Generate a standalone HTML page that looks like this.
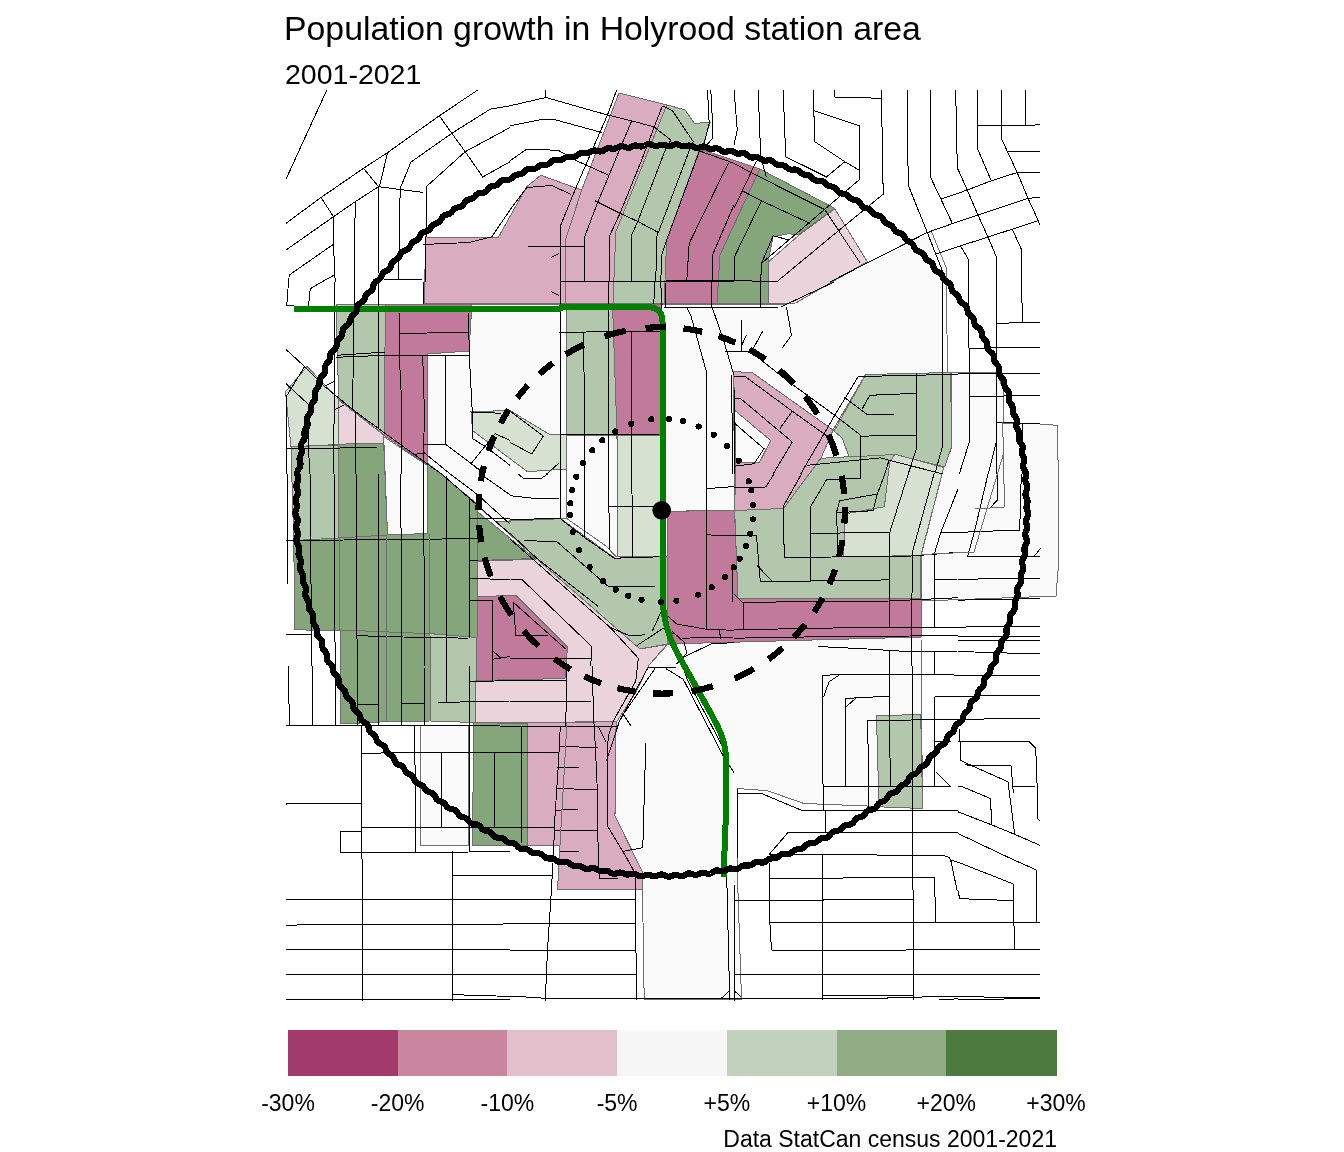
<!DOCTYPE html>
<html lang="en"><head><meta charset="utf-8"><title>Population growth in Holyrood station area</title>
<style>
html,body{margin:0;padding:0;background:#fff}
body{width:1344px;height:1152px;overflow:hidden;position:relative;font-family:"Liberation Sans",sans-serif;color:#000}
svg{position:absolute;left:0;top:0;display:block}
text{font-family:"Liberation Sans",sans-serif;fill:#000}
.st{fill:none;stroke:#000;stroke-width:1;shape-rendering:crispEdges}
.pg{stroke:#6e6e6e;stroke-width:1;shape-rendering:crispEdges}
</style></head><body>
<svg width="1344" height="1152" viewBox="0 0 1344 1152">
<rect width="1344" height="1152" fill="#fff"/>

<g class="pg">
<polygon fill="#fafafa" points="472,304 566,304 566,518 496,521.7 427.5,465.5 427,354 469,351"/>
<polygon fill="#fafafa" points="383.7,436.7 427.5,465.5 427.5,533.5 387.5,535"/>
<polygon fill="#fafafa" points="661,304 786,304 927.3,232.5 931.5,231.7 946.5,268.3 947.3,373 865.6,374.4 833,430 752,372.5 733.5,371.7 734.7,510 661,511.5"/>
<polygon fill="#fafafa" points="951,372.5 997,372 1003.3,390 1003.3,423.5 1040,424 1057,425.3 1058,460 1058,571 1056,596 921,601 921,556 943.7,467.5 951,447.3"/>
<polygon fill="#fafafa" points="667,645 681,640 921,637.5 921.5,715 922.7,808.5 879,806.5 804,803.5 767.3,790.7 737.3,788.5 737.3,871 741.5,999.7 644.2,999.7 642.5,889 642.5,872 615,816 615.5,735 616.7,721.8 636.7,691 648.3,666"/>
<polygon fill="#fafafa" points="420,725 468.7,725 468.7,846 420,845"/>
<polygon fill="#fafafa" points="566,435 617,435 619.5,555.5 616,556.7 606,546 566,518"/>
<polygon fill="#fafafa" points="734.8,410.4 770.7,440.4 759.5,462.3 735.7,462.3"/>
<polygon fill="#fafafa" points="833.3,430 842.3,438 849,457 820.8,458.3"/>
<polygon fill="#d9adbf" points="425.5,237 480,237.5 498,238 526.7,186.7 540.8,175.3 581.7,190 565.8,239 565.5,303.5 424.5,303.5"/>
<polygon fill="#d9adbf" points="619,93 666.7,105 615.8,231.7 613,303.5 565.5,303.5 565.8,239 581.7,190"/>
<polygon fill="#b3c7ad" points="666.7,105 685,109.7 694.2,123.3 710,122.5 704.2,141.7 699,151 666.7,240 664,303.5 613,303.5 615.8,231.7"/>
<polygon fill="#c27a9c" points="699,151 705,150.8 759.8,169 720,255 717,303.5 664,303.5 666.7,240"/>
<polygon fill="#85a57a" points="759.8,169 834.8,208.3 798,235 789,233.7 773,236.7 768.2,261.7 768.2,303.5 717,303.5 720,255"/>
<polygon fill="#ebd3dc" points="834.8,208.8 867.3,261.7 795.7,303 768.2,303.5 768.2,262 798.5,235.5"/>
<polygon fill="#b3c7ad" points="336,304 385.5,304 384,435 338.7,399"/>
<polygon fill="#d6e1d2" points="285.5,391.7 307,366.5 338.7,399 338.7,444.5 291,446.7"/>
<polygon fill="#ebd3dc" points="338.7,400 383.7,435 383.7,443 338.7,444.2"/>
<polygon fill="#c27a9c" points="385.5,304 472,304 469,351 427,354 427,464 384,435.5"/>
<polygon fill="#b3c7ad" points="291,446.7 338.7,445 338.7,538 293.7,540.5"/>
<polygon fill="#85a57a" points="338.7,444.2 383.7,443 387.5,535 338.7,538"/>
<polygon fill="#85a57a" points="293.7,540.5 338.7,538 387.5,535 427.5,533.5 427.5,463 477.5,504.2 477.5,638 430,633.5 295,629.7"/>
<polygon fill="#85a57a" points="477.5,511.7 535,558.5 477.5,560.5"/>
<polygon fill="#85a57a" points="340.5,630 430,633.7 430,721 390,721.5 340.5,724"/>
<polygon fill="#b3c7ad" points="430,633.7 477.5,637.5 475,722.5 431,721"/>
<polygon fill="#b3c7ad" points="566,304 612.5,304 617,434.5 566,434.5"/>
<polygon fill="#c27a9c" points="612.5,304 661,304 661,434.5 617,434.5"/>
<polygon fill="#d6e1d2" points="617,435 660,435 660,556.5 617.5,556.5"/>
<polygon fill="#d6e1d2" points="471,411.7 510,410.5 548.7,434 566,434 566,469 527.5,471.7 472.5,430.5"/>
<polygon fill="#b3c7ad" points="496,521.7 560.8,518.7 615,558.2 659.2,556.5 667.5,556 667.5,644 640,649 536.7,559"/>
<polygon fill="#ebd3dc" points="477.5,561.5 536.7,559 640,649 667,644.5 648.3,666 636.7,691 616.7,721.8 475,722.5 476,680.5 565,678.5 567.5,647 516,595.5 477.5,596.5"/>
<polygon fill="#c27a9c" points="477.5,596.5 516,595.5 567.5,647 565,678.5 476.5,680.5"/>
<polygon fill="#85a57a" points="473.7,722.5 527.5,723.7 528.7,845 472.5,845"/>
<polygon fill="#d9adbf" points="527.5,722.7 616.7,721.8 615.5,735 615,816 642.5,872 642.5,889 557.5,890 560,845.2 527.5,845.2"/>
<polygon fill="#d9adbf" points="733.5,371.7 752,372.5 833,430 821,458 783.5,508.5 734.7,510.5 735.7,462.3 759.5,462.3 770.7,440.4 734.8,410.4"/>
<polygon fill="#c27a9c" points="667.5,511.5 734.5,510 738,598.5 921,599 921,637 667.5,644"/>
<polygon fill="#b3c7ad" points="734.7,510.5 783.5,508.5 820.8,458.3 849.4,456.7 894.8,454.2 889.6,463 884.4,506.7 844.8,514 843.7,556.7 920.8,555.6 921,599 738,598.5"/>
<polygon fill="#b3c7ad" points="865.7,374.5 950.7,372.5 951.5,447 944.8,467 894.8,454.5 849,457 842.3,438 834,431.2"/>
<polygon fill="#d6e1d2" points="894.8,454.2 943.7,467.5 920.8,555.6 843.7,556.7 844.8,514 884.4,506.7 889.6,463"/>
<polygon fill="#b3c7ad" points="876.5,716 920.7,714.3 922.7,808.5 879,806.8"/>
</g>
<g class="st">
<polyline points="326.8,90 286,179.2"/>
<polyline points="477.7,90 439.3,115.8 387.7,152.5 363.5,168.3 321,197.5 286,223.3"/>
<polyline points="510,105.8 490.2,109.2 451.8,133.3 411,162 400.2,188.3 398.5,279.2"/>
<polyline points="378.5,186.7 355.2,201.7 333.5,216.7 286,250"/>
<polyline points="363.5,168.3 378.5,186.7"/>
<polyline points="387.7,152.5 379.3,186.7"/>
<polyline points="378.5,186.7 423.5,192.5"/>
<polyline points="378.5,186.7 378.5,273.3"/>
<polyline points="510,127.5 465.2,151.7 426,187 426,236.7 425.2,282"/>
<polyline points="439.3,115.8 451.8,133.3 465.2,151.7 482.7,177 510,161.7"/>
<polyline points="321,197.5 333.5,216.7 333.5,245 335.2,282"/>
<polyline points="355.2,201.7 354.3,282"/>
<polyline points="333.5,244.2 289.3,275 288.5,282"/>
<polyline points="334.3,275 321.8,282"/>
<polyline points="422.7,244.5 469.3,242.5 491.8,236.7 510,210"/>
<polyline points="384.3,279.2 421.8,279.2"/>
<polyline points="545.8,90 545.8,97.5"/>
<polyline points="510,105.8 545.8,97.5 607.5,115 631.7,120.8 654.2,127 670.8,140"/>
<polyline points="510,125.8 526.7,122.5 539.2,120 555,119.7 601.7,132.5"/>
<polyline points="510,160.8 526.7,149.2 558.3,150.3 576.7,160.8 607.5,174.7"/>
<polyline points="510,210 526.7,187.5 551.7,185.5 570.8,194.2"/>
<polyline points="616.7,90 607.5,115 593.3,147.5 575,190 560.8,225 560.8,282"/>
<polyline points="631.7,120.8 616.7,156.7 596.7,205 584.7,236.7 584.7,282"/>
<polyline points="662.5,105.8 654.2,127 641.7,160 620,213.3 609.2,236.7 609.2,282"/>
<polyline points="662.5,105.8 672.5,110.8 693.3,141.7"/>
<polyline points="670.8,140 665,150.8 638.3,220 631.7,235 631.7,282"/>
<polyline points="693.3,141.7 689.2,150.8 658.3,232.5 656.7,236.7 655.8,282"/>
<polyline points="707.5,90 709.2,123.3 704.2,143.3 699.2,151.7 666.7,240 661.7,255 660.8,282"/>
<polyline points="710.8,90 712.5,122.5 712.5,138.3 706.7,145"/>
<polyline points="699.2,150.8 734,163.3"/>
<polyline points="728.3,163.3 689.2,243.3 686.7,282"/>
<polyline points="734,205 712.5,255 712.5,282"/>
<polyline points="595,200.8 620,213.3 638.3,221.7 658.3,232.5"/>
<polyline points="528,246.3 584.7,246.3"/>
<polyline points="550.8,257.5 559.2,253.3"/>
<polyline points="665.8,280.8 734,280.8"/>
<polyline points="734,90 737.3,130 734,145"/>
<polyline points="758.2,90 760.7,156.7 766.5,177.5"/>
<polyline points="783.2,90 785.7,156.7 826.5,177 844.8,161.7"/>
<polyline points="813.2,90 814.8,141.7 844.8,161.7 859,170"/>
<polyline points="814,110.8 859,125.8 859,180 824,210 761.5,263.3 760.7,282"/>
<polyline points="834.8,90 834.8,97 881.5,98.3"/>
<polyline points="881.5,90 881.5,98.3 883.2,194.2 837.3,231.7 776.5,282"/>
<polyline points="907.3,90 908.2,185 927.3,232.5 944,275 945.7,282"/>
<polyline points="930.7,90 930.7,177.5 952.3,223.3"/>
<polyline points="955.7,90 957.3,168.3 958,170"/>
<polyline points="940.7,199.2 958,193.3"/>
<polyline points="829.8,282 927.3,232.5 958,221.7"/>
<polyline points="935.7,254.2 958,246.7"/>
<polyline points="734,163.3 750.7,172.5 824.8,209.7 859.8,262.5"/>
<polyline points="742.3,190.8 761.5,200.8 809.8,223.3"/>
<polyline points="761.5,200.8 734.5,256.7 734.3,281"/>
<polyline points="756.5,160.8 742.3,190.8 734,208.3"/>
<polyline points="761.5,263.3 773.2,235.8 789,240"/>
<polyline points="734,280.8 776.5,281.3"/>
<polyline points="977.7,90 977.7,149.2 991.3,180.8"/>
<polyline points="1001.7,90 1001.7,139.2 1017.2,172.5 1028,198.3 1038,220 1040,225.3"/>
<polyline points="1025.5,90 1025.5,125"/>
<polyline points="977.7,125.3 1033,125.3 1039.7,124.5"/>
<polyline points="1008,151.7 1039.7,151.7"/>
<polyline points="1017.2,172.5 1039.7,172.5"/>
<polyline points="958,193.3 967.2,190 991.3,180.8 1017.2,172.5"/>
<polyline points="958,221.7 978,215 1028,198.3 1039.7,197.5"/>
<polyline points="958,246.7 988,237 1012.2,229.2 1038,220.8"/>
<polyline points="958,169.2 967.2,190 978,215 988,237 996.3,256.7 996.3,282"/>
<polyline points="960.5,245.8 968.3,259.2 968.3,282"/>
<polyline points="1012.2,229.2 1021.3,249.2 1021.3,282"/>
<polyline points="288.5,282 286.8,305 294.3,305"/>
<polyline points="321.8,282 310.2,288.7 308.5,307"/>
<polyline points="334.7,282 334.7,382 333.2,474"/>
<polyline points="354.3,282 353.5,357 352.3,409.5"/>
<polyline points="355.7,412 356,474"/>
<polyline points="378.5,282 378.5,427.8"/>
<polyline points="424,282 423.5,304.5"/>
<polyline points="399.3,312.8 399.3,355.3 401,390.3 401,474"/>
<polyline points="399.3,333.7 468.5,332"/>
<polyline points="336,357.3 386,355.3 468.5,355.3"/>
<polyline points="422.7,355.3 424.3,408.7 423.5,474"/>
<polyline points="445.7,355.3 445.7,444.5 424.3,444.5"/>
<polyline points="468.5,312.8 469.3,355.3 472.3,412 472.7,438.7 486,447 510,465.3"/>
<polyline points="471,412.3 501,413.2"/>
<polyline points="286,349.5 304.3,366.2 324.3,386.2 352.7,409.5 384.3,432.8 414.3,454.5 432.7,467.8 441.8,474"/>
<polyline points="286,383.7 307.7,403.7"/>
<polyline points="304.3,367 286,397"/>
<polyline points="324.3,386.2 334.7,381.2"/>
<polyline points="334.7,409.5 344.3,405"/>
<polyline points="286,448.3 376.8,447.8"/>
<polyline points="308,404.5 309.3,474"/>
<polyline points="414.3,454.5 424.3,452.8 450.2,474"/>
<polyline points="445.7,444.5 485.2,474"/>
<polyline points="495.2,433.7 471,463.7 481.8,472"/>
<polyline points="495.2,433.7 510,440.3"/>
<polyline points="286.8,397 286.8,474"/>
<polyline points="336.5,355.3 385.7,352"/>
<polyline points="560,282 560,474"/>
<polyline points="608.3,282 608.3,474"/>
<polyline points="559.2,332.3 660.8,331.2"/>
<polyline points="583.3,332.3 584.2,382 584.2,474"/>
<polyline points="631.7,331.5 631.7,474"/>
<polyline points="560,435 659.2,434.5"/>
<polyline points="655,282 653.7,304.5"/>
<polyline points="660.8,282 661.7,308.7"/>
<polyline points="665,282 665.5,307"/>
<polyline points="711.7,282 712,307 722.5,337 734,375.3"/>
<polyline points="664.2,307.3 734,307.3"/>
<polyline points="686.7,307.8 690.8,315.3 706.7,372.8 706.7,474"/>
<polyline points="734,351.2 725,351.2"/>
<polyline points="731.7,375.3 732.5,474"/>
<polyline points="550.8,291.2 559.2,295.7"/>
<polyline points="510,411.2 543.3,436.2 531.7,454 510,442.3"/>
<polyline points="559.2,462.8 546.7,474"/>
<polyline points="560,281.5 734,281.5"/>
<polyline points="760.7,282 760.7,307"/>
<polyline points="734,307.3 780.7,307 834,282"/>
<polyline points="786.5,307 791.5,335.3 782.3,347.8"/>
<polyline points="741.5,320 741.5,351.2"/>
<polyline points="734,351.2 749.8,351.2"/>
<polyline points="746.5,335.3 742,344.5"/>
<polyline points="762.7,331.2 752.7,349.5"/>
<polyline points="749.8,351.2 789,382 834.8,415.3 860.7,435.3 860.7,474"/>
<polyline points="858.2,376.5 916.5,375.3 958,374"/>
<polyline points="858.2,376.5 834.8,415.3 805.7,465.3 800.7,474"/>
<polyline points="844,397 867.3,414.5 894,414.5"/>
<polyline points="862.3,408.7 869.8,395.3 916.5,393.3"/>
<polyline points="916.5,373.3 916.5,448.7 908.2,474"/>
<polyline points="860.7,436.2 916.5,435"/>
<polyline points="942.3,282 942.3,447 934.8,474"/>
<polyline points="807.3,465.3 880.7,457.8 889,460.3 884.8,474"/>
<polyline points="889,460.3 943.2,474"/>
<polyline points="734,376.2 745.7,377 792.3,411.2 827.3,436.2"/>
<polyline points="734,398.7 740.7,398.7 792.3,442 773.2,474"/>
<polyline points="792.3,411.2 779.8,428.7"/>
<polyline points="734,422.8 764,448.7 754,463.7 734,466.2"/>
<polyline points="734.8,390.3 734.8,474"/>
<polyline points="968.8,282 969.3,442 959.3,474"/>
<polyline points="996.7,282 996.7,474"/>
<polyline points="996,442.8 988.3,474"/>
<polyline points="1021.3,282 1022.7,322.8"/>
<polyline points="996.7,323.3 1039.7,322.3"/>
<polyline points="969.3,348.3 1039.7,347.3"/>
<polyline points="958,374 1039.7,373.3"/>
<polyline points="969.3,396.7 1039.7,395.3"/>
<polyline points="996.7,422.8 1039.7,423.3"/>
<polyline points="1022.2,423.3 1022.2,474"/>
<polyline points="287.3,474 288,584"/>
<polyline points="310.2,474 311,584 311.8,666"/>
<polyline points="334.3,474 334.7,630.7 335.7,666"/>
<polyline points="356.3,474 356.8,630.7 357.7,666"/>
<polyline points="378.5,474 378.5,666"/>
<polyline points="400.7,474 401.8,666"/>
<polyline points="423.5,474 424.7,666"/>
<polyline points="446.3,476.5 446.8,666"/>
<polyline points="469,497.3 469,638.2"/>
<polyline points="286,540.7 386,539.5 477.7,538.7"/>
<polyline points="286,634.3 311,634.8"/>
<polyline points="356.8,635.7 402.7,637 468.5,638.2"/>
<polyline points="469,518.5 510,518.5"/>
<polyline points="469,560.3 477.7,560.3"/>
<polyline points="469,578.7 510,579.3"/>
<polyline points="469,600.7 492.7,601"/>
<polyline points="492.7,601 492.7,666"/>
<polyline points="492.7,650.7 501,658.2"/>
<polyline points="492.7,659.3 510,656.5"/>
<polyline points="441.8,474 476.8,504.8 510,534"/>
<polyline points="450.2,474 477.7,494.8 510,524"/>
<polyline points="485.2,477.3 510,494.8"/>
<polyline points="560,474 560,518.7"/>
<polyline points="584.2,474 584.2,537.3"/>
<polyline points="608.3,474 609.7,549.8"/>
<polyline points="631.7,474 633,557.3"/>
<polyline points="609.2,506.8 659.2,506"/>
<polyline points="510,495.7 535,498.5 559.2,498.5"/>
<polyline points="518.3,474 523.3,478.2 541.7,478.2 547.5,474"/>
<polyline points="510,519.3 560,518.7"/>
<polyline points="560.8,519 584.2,537.3 614.2,558.2 659.2,556.8"/>
<polyline points="524.2,540.7 556.7,541.5 608.3,586.5 655,586.5"/>
<polyline points="510,533.2 536.7,558.2 598.3,606.5"/>
<polyline points="510,539 610,627.3 630,636 645,634.8"/>
<polyline points="510,579 521.7,579.3 591.7,646.5 590.8,666"/>
<polyline points="610,627.3 638.3,658.2 637.5,666"/>
<polyline points="636.7,645.7 663.3,628.2 674.2,634"/>
<polyline points="672.5,631.5 684.2,642.3 686.7,653.2 676.7,664"/>
<polyline points="660.8,612.3 652.5,630.7"/>
<polyline points="706.7,474 706.7,629"/>
<polyline points="706.7,488.7 734,486.5"/>
<polyline points="706.7,534.8 734,536"/>
<polyline points="667.5,615.7 676.7,624 706.7,629.3 734,630.3"/>
<polyline points="719.2,629.8 720.8,639"/>
<polyline points="681.7,638.2 734,637"/>
<polyline points="732.5,564 732.5,602.3"/>
<polyline points="683.3,657.3 711.7,643.7 734,642.7"/>
<polyline points="513.3,602.3 515.8,635.3 548.3,635.3"/>
<polyline points="513.3,602.3 565.8,649"/>
<polyline points="510,658.5 591.7,658.2"/>
<polyline points="734,487.7 765.7,487 774,474"/>
<polyline points="801.5,474 783.2,506.5 784.3,557.3 911.5,556.5"/>
<polyline points="860.7,474 860.2,478.2 826.5,479.8 810.7,506.5 810.7,580.7"/>
<polyline points="884.8,474 877.3,494 839.8,500.7 836.5,512.3 838.2,556.5"/>
<polyline points="877.3,494 873.2,510.7 836.5,512.7"/>
<polyline points="908.2,474 889.8,532.3 889.8,627.3"/>
<polyline points="810.7,533.2 889.8,532.7"/>
<polyline points="734,535.7 756.5,535.7 760.3,581 810.7,581 850.7,580.7 889.8,579.8"/>
<polyline points="757.3,565.7 771.5,580.7"/>
<polyline points="934,474 912.3,552.3 911.5,666"/>
<polyline points="958,489 940.7,532.7 934.8,552.3 934.8,627.3"/>
<polyline points="940.7,532.7 958,532.7"/>
<polyline points="911.5,556 958,552.3"/>
<polyline points="934.8,579.3 958,579"/>
<polyline points="734,594 742.3,602.3 889.8,601 958,597.7"/>
<polyline points="743.2,602.3 743.2,629"/>
<polyline points="734,629.8 850.7,627.7 958,627.3"/>
<polyline points="734,638.2 834,636.5 958,635.7"/>
<polyline points="818.2,646.5 867.3,649 911.5,651.8 958,651"/>
<polyline points="889.8,651 889.8,666"/>
<polyline points="934.8,651.5 934.8,666"/>
<polyline points="988,474 974.7,530.7 967.7,556"/>
<polyline points="998,474 997.7,499.8 989.3,508.7 974.7,508.7"/>
<polyline points="1021.3,474 1019.7,530.3 974.7,531.5 958,532.7"/>
<polyline points="967.2,556.5 1039.7,556.5"/>
<polyline points="1033.8,556.5 1040.8,548.2"/>
<polyline points="958,579.8 986.3,578.7 1039.7,578.5"/>
<polyline points="958,600.2 991.3,599.3 1039.7,598.7"/>
<polyline points="958,627.3 979.7,626.5 1039.7,626.2"/>
<polyline points="958,636.5 1039.7,636"/>
<polyline points="958,640.3 1039.7,640.3"/>
<polyline points="958,651.5 1013,653.2 1039.7,653.7"/>
<polyline points="288.5,666 289.3,725.2"/>
<polyline points="312.3,666 312.3,725.2"/>
<polyline points="335.7,666 335.7,725.2"/>
<polyline points="357.7,666 357.7,725.2"/>
<polyline points="378.5,666 378.5,725.2"/>
<polyline points="357.7,704.7 378.5,704.7"/>
<polyline points="401.3,666 401.8,725.2"/>
<polyline points="401.8,703.5 423.5,703.5"/>
<polyline points="424,666 424.7,725.2"/>
<polyline points="446.8,666 446.8,701.8"/>
<polyline points="437.7,702.3 475.2,701.8 510,701"/>
<polyline points="469,666 469,851"/>
<polyline points="492.7,666 492.7,681"/>
<polyline points="470.2,681.5 510,680.7"/>
<polyline points="286,725.2 474.3,725.2 510,726.3"/>
<polyline points="361.8,725.2 361.8,858"/>
<polyline points="414.7,725.2 415.2,789.3 415.7,852.3"/>
<polyline points="361.8,753.3 401,752.7 510,752.3"/>
<polyline points="441.8,752.7 441.8,827.3"/>
<polyline points="494.3,752.7 494.3,827.3"/>
<polyline points="361.8,827.3 510,827.3"/>
<polyline points="286,804.3 287.7,803.3 361.8,803.3"/>
<polyline points="361.8,831.5 340.7,831.5 340.7,852.3 467.7,852.3"/>
<polyline points="469,851 510,851"/>
<polyline points="452.7,851 452.7,858"/>
<polyline points="510,681 565.8,680.2"/>
<polyline points="566.7,666 565.8,726"/>
<polyline points="510,701.3 590.8,701"/>
<polyline points="592.5,666 593.3,712.7 595.3,746 597,782.7 598.3,858"/>
<polyline points="510,726.3 616.7,726.3"/>
<polyline points="560.3,726.3 558.3,766 555,816 553.3,858"/>
<polyline points="521.3,726.3 521.3,842.7"/>
<polyline points="510,752.3 558.7,752.3"/>
<polyline points="559.7,746.3 597.5,747.7"/>
<polyline points="557.5,767.3 578.7,767.2"/>
<polyline points="556.7,788.5 597.5,789.7"/>
<polyline points="555.8,810.3 578.7,809"/>
<polyline points="510,827.3 554.2,827.3"/>
<polyline points="554.7,830.7 598.3,830.7"/>
<polyline points="560,851 578.7,851"/>
<polyline points="637.5,666 635.8,681 613.3,721 608.3,736 607,759.3 607.5,826 626.7,858"/>
<polyline points="655,668.5 623.3,714.3 630.8,725.7"/>
<polyline points="647.5,668.5 619.2,721.8 607,759.3"/>
<polyline points="598.3,726.8 605.8,741.8"/>
<polyline points="645.3,742.7 645.3,759.3 642.8,847.7 623.3,851.3"/>
<polyline points="648.3,667.3 675.8,667.3"/>
<polyline points="665.8,668.5 683.3,679.3 723.3,756 734,772.7"/>
<polyline points="684.2,671 687,679.3 725,751"/>
<polyline points="889.8,666 889.8,749.3 890.7,786"/>
<polyline points="912,666 912.7,858"/>
<polyline points="934.8,666 934.8,674.3"/>
<polyline points="934.8,696.8 934.8,786"/>
<polyline points="822.3,675.5 840.7,674.3 940.7,674.3 958,675.2"/>
<polyline points="822.3,675.5 823.2,811"/>
<polyline points="839.8,674.7 829,681.8 823.7,696.8"/>
<polyline points="845.3,698.7 857.3,697.7 889.8,696.3"/>
<polyline points="845.3,698.7 845.7,786"/>
<polyline points="856.5,697.7 846,706.8"/>
<polyline points="934.8,696.8 958,696.8"/>
<polyline points="867.3,720.3 958,719.7"/>
<polyline points="867.3,720.3 868.7,766 868.7,806.8"/>
<polyline points="934.8,741.8 950.7,741.3"/>
<polyline points="823.2,786 950.7,786"/>
<polyline points="935.7,771.8 950.3,786"/>
<polyline points="737.3,793.5 761.5,793.5 803.2,811 958,810.3"/>
<polyline points="737.3,789 737.3,858"/>
<polyline points="825.3,811 825.3,832.3"/>
<polyline points="788.2,832.3 958,833"/>
<polyline points="788.2,832.3 769.3,854.3"/>
<polyline points="769.3,854.7 942.3,855.2 950.3,857.7"/>
<polyline points="822.3,855.2 822.3,858"/>
<polyline points="958,675.2 1039.7,675.2"/>
<polyline points="958,696.8 986.3,695.7 1039.7,695.3"/>
<polyline points="958,719.7 996.3,718.7 1039.7,718.5"/>
<polyline points="958,741.3 1028.8,741.3 1035.5,748 1036.7,766 1037.7,819 1039.7,820.5"/>
<polyline points="959.7,729.3 960.5,760.2 968.8,764.3 1008,781.8 1014.7,834.3"/>
<polyline points="965.5,764.3 968.8,765.5 1011,765.5 1013.3,792.7"/>
<polyline points="1013,786.3 1035,786.3"/>
<polyline points="958,786.3 961.3,786.3 990.5,798.5 991.7,824.3"/>
<polyline points="958,811.8 991.3,824.7 1014.7,834.3 1039.7,845.2"/>
<polyline points="958,833.5 1009.7,858"/>
<polyline points="361.8,858 362.7,863 362.7,1000.5"/>
<polyline points="452.7,858 452.7,1000.5"/>
<polyline points="452.7,875.2 510,875.2"/>
<polyline points="286,899.3 510,899.3"/>
<polyline points="286,925.5 303.5,924.7 500.2,924.3 510,923.3"/>
<polyline points="286,949.7 510,949.7"/>
<polyline points="286,974.7 510,974.7"/>
<polyline points="286,999.7 510,999.7"/>
<polyline points="452.7,994.3 466.8,995.2 496,996 510,996.3"/>
<polyline points="553,863 550.8,899.7 547.5,949.7 545.3,1000.5"/>
<polyline points="510,875.2 552.5,875.2"/>
<polyline points="598.3,858 599.7,878 618.3,878"/>
<polyline points="626.7,858 635,873 635.8,938 636.7,1000.5"/>
<polyline points="510,899.3 635.3,899.3"/>
<polyline points="510,923.5 635.3,923.5"/>
<polyline points="510,950 635,950.3"/>
<polyline points="510,974.7 636.2,974.7"/>
<polyline points="510,996.3 523.3,996.8 553.3,998.8 734,998.8"/>
<polyline points="726.7,874.7 729.7,999.7"/>
<polyline points="721.7,998 729.2,990.8"/>
<polyline points="734.8,884.7 734.8,1000.5"/>
<polyline points="734.8,991.3 741.5,997.2"/>
<polyline points="769.3,863 769.3,913 771.5,950.2"/>
<polyline points="822.3,858 822.7,1000.5"/>
<polyline points="912.3,858 913.2,898 913.7,1000.5"/>
<polyline points="769.8,878.3 842.3,878.3 844,877.5 934.5,877.5 935.7,922.2"/>
<polyline points="734.8,900.5 823.2,900.5 824,899.3 913.2,899.3"/>
<polyline points="769,922.2 958,922.2"/>
<polyline points="771.5,950.2 905.7,950.2 907.3,949.3 958,949.3"/>
<polyline points="734.8,974.3 958,974.3"/>
<polyline points="734,998.8 886.5,998.8 888.2,997.3 958,996.7"/>
<polyline points="822.7,995.5 913.2,995.5"/>
<polyline points="939,999.7 958,998.8"/>
<polyline points="949,858 950.7,860 957.3,891.3"/>
<polyline points="950.7,860 958,862.2"/>
<polyline points="958,862.2 1013,883.8 1013.8,918 1014.7,949.3"/>
<polyline points="1009.7,858 1036.3,870 1036.7,922.2"/>
<polyline points="958,891.3 959.7,898.3 973,899.3 1013.3,900.5"/>
<polyline points="958,922.2 1039.7,922.2"/>
<polyline points="958,949.3 1039.7,949.3"/>
<polyline points="958,974.3 1039.7,974.3"/>
<polyline points="958,996.7 1039.7,997.7"/>
<polyline points="958,999 989.7,999.3 1039.7,998.3"/>
</g>
<g class="st" style="stroke:#6e6e6e">
<polyline points="339,538 339.7,630"/>
<polyline points="386,535 386,721"/>
<polyline points="429.3,534 429.3,634"/>
<polyline points="567,722 560,845"/>
<polyline points="1002.7,422 1004.5,507 975.2,509"/>
<polyline points="1004,452 974,552 922,554.5"/>
</g>
<path d="M294,309 L560,308.8 L562,307 L647,307 Q662.5,307 662.5,322 L662.5,590 C662.5,620 668,636 679.3,656.7 L708,708.3 C718,726 726,740 726,760 L726,812 L723.5,877" fill="none" stroke="#008000" stroke-width="6" stroke-linejoin="round" shape-rendering="crispEdges"/>
<polygon points="1027.3,510.4 1028.0,511.9 1028.3,513.4 1028.1,514.9 1027.6,516.4 1026.9,517.9 1026.3,519.4 1026.0,520.9 1026.0,522.4 1026.4,523.9 1026.9,525.4 1027.1,526.9 1027.0,528.4 1026.5,529.9 1025.9,531.4 1025.4,532.8 1025.2,534.3 1025.4,535.8 1025.9,537.4 1026.5,538.9 1026.9,540.5 1026.9,542.0 1026.4,543.4 1025.7,544.9 1025.0,546.3 1024.5,547.8 1024.4,549.3 1024.5,550.8 1024.9,552.3 1025.0,553.9 1024.9,555.4 1024.3,556.8 1023.5,558.2 1022.7,559.6 1022.2,561.1 1022.1,562.6 1022.4,564.1 1022.9,565.7 1023.3,567.3 1023.3,568.8 1023.0,570.3 1022.3,571.7 1021.5,573.1 1020.9,574.5 1020.6,576.0 1020.6,577.5 1020.9,579.1 1021.0,580.6 1020.8,582.1 1020.3,583.5 1019.4,584.9 1018.4,586.2 1017.6,587.6 1017.1,589.0 1017.1,590.5 1017.4,592.1 1017.7,593.7 1017.7,595.3 1017.4,596.8 1016.7,598.1 1015.9,599.5 1015.1,600.8 1014.7,602.3 1014.6,603.8 1014.7,605.4 1014.9,607.0 1014.8,608.5 1014.3,609.9 1013.4,611.2 1012.3,612.5 1011.2,613.7 1010.5,615.1 1010.2,616.5 1010.2,618.1 1010.3,619.7 1010.2,621.3 1009.9,622.7 1009.1,624.1 1008.2,625.4 1007.3,626.6 1006.7,628.0 1006.4,629.5 1006.5,631.1 1006.6,632.7 1006.6,634.3 1006.2,635.8 1005.4,637.1 1004.2,638.3 1003.1,639.4 1002.1,640.7 1001.5,642.1 1001.3,643.6 1001.2,645.1 1001.0,646.7 1000.6,648.1 999.8,649.4 998.8,650.6 997.7,651.8 996.8,653.1 996.3,654.5 996.2,656.0 996.2,657.7 996.2,659.3 995.9,660.8 995.2,662.2 994.1,663.4 993.0,664.5 991.9,665.6 991.1,666.9 990.6,668.3 990.4,669.9 990.1,671.4 989.7,672.9 988.8,674.1 987.7,675.2 986.4,676.3 985.3,677.4 984.5,678.7 984.1,680.1 984.0,681.8 983.9,683.4 983.6,685.0 983.0,686.3 982.0,687.5 980.8,688.6 979.7,689.6 978.7,690.9 978.1,692.2 977.8,693.8 977.5,695.3 977.0,696.8 976.1,698.0 975.0,699.1 973.6,700.0 972.3,700.9 971.2,702.0 970.5,703.4 970.1,704.9 969.9,706.5 969.5,708.1 968.9,709.4 967.9,710.6 966.7,711.6 965.5,712.6 964.5,713.7 963.7,715.0 963.3,716.5 962.9,718.1 962.5,719.6 961.7,720.9 960.6,722.0 959.2,722.8 957.7,723.6 956.4,724.5 955.5,725.7 954.8,727.1 954.3,728.6 953.9,730.1 953.2,731.5 952.2,732.6 950.9,733.5 949.6,734.4 948.5,735.4 947.6,736.6 947.0,738.0 946.6,739.6 946.1,741.2 945.4,742.6 944.4,743.7 943.0,744.5 941.5,745.2 940.1,746.0 938.9,746.9 938.1,748.2 937.4,749.6 936.8,751.0 936.0,752.4 935.0,753.4 933.7,754.3 932.3,755.0 930.9,755.8 929.8,756.9 929.1,758.2 928.5,759.7 928.0,761.3 927.3,762.7 926.4,763.9 925.1,764.8 923.7,765.5 922.2,766.1 920.9,767.0 919.9,768.1 919.1,769.4 918.4,770.8 917.5,772.1 916.5,773.1 915.1,773.9 913.6,774.5 912.1,775.1 910.8,775.9 909.8,777.0 909.0,778.4 908.4,779.9 907.7,781.4 906.8,782.6 905.6,783.5 904.2,784.2 902.7,784.8 901.3,785.5 900.2,786.5 899.3,787.7 898.5,789.1 897.6,790.4 896.6,791.5 895.2,792.2 893.7,792.7 892.1,793.1 890.6,793.6 889.3,794.5 888.4,795.7 887.6,797.1 886.8,798.5 885.8,799.7 884.6,800.6 883.2,801.3 881.8,801.8 880.3,802.4 879.1,803.2 878.1,804.4 877.2,805.7 876.3,807.1 875.3,808.2 874.0,809.0 872.5,809.5 870.8,809.7 869.3,810.1 867.8,810.7 866.7,811.6 865.7,812.8 864.7,814.1 863.7,815.3 862.5,816.2 861.1,816.8 859.6,817.2 858.1,817.6 856.7,818.3 855.6,819.3 854.6,820.6 853.7,821.9 852.7,823.2 851.5,824.0 850.0,824.5 848.4,824.8 846.8,825.0 845.3,825.4 843.9,826.1 842.8,827.1 841.7,828.2 840.6,829.3 839.4,830.2 837.9,830.7 836.4,830.9 834.8,831.2 833.3,831.6 832.1,832.4 831.0,833.5 830.0,834.9 828.9,836.1 827.7,837.1 826.4,837.7 824.8,838.0 823.2,838.1 821.6,838.3 820.2,838.9 819.0,839.7 817.8,840.8 816.7,841.8 815.4,842.6 813.9,843.1 812.3,843.2 810.7,843.2 809.1,843.4 807.7,843.9 806.5,844.8 805.3,845.9 804.2,847.2 803.0,848.2 801.7,848.8 800.2,849.1 798.6,849.2 797.0,849.4 795.6,849.7 794.2,850.5 793.0,851.4 791.8,852.5 790.5,853.3 789.1,853.7 787.5,853.8 785.8,853.7 784.2,853.6 782.7,853.8 781.3,854.3 780.1,855.3 778.8,856.4 777.6,857.3 776.2,858.0 774.7,858.3 773.2,858.3 771.6,858.4 770.1,858.6 768.7,859.2 767.4,860.1 766.2,861.1 764.9,862.0 763.4,862.5 761.9,862.6 760.3,862.4 758.7,862.1 757.1,862.0 755.6,862.3 754.2,863.0 752.9,863.9 751.6,864.7 750.2,865.3 748.7,865.6 747.2,865.5 745.6,865.4 744.0,865.4 742.6,865.8 741.2,866.6 739.9,867.5 738.6,868.5 737.2,869.1 735.7,869.3 734.1,869.2 732.5,868.8 730.9,868.5 729.4,868.5 728.0,869.0 726.6,869.7 725.2,870.4 723.7,870.9 722.3,871.1 720.7,870.9 719.1,870.6 717.6,870.4 716.1,870.5 714.6,871.0 713.3,871.9 711.9,872.8 710.5,873.5 709.0,873.8 707.4,873.7 705.9,873.3 704.3,873.0 702.8,872.8 701.3,873.0 699.9,873.6 698.4,874.2 697.0,874.7 695.5,874.8 693.9,874.6 692.4,874.1 690.8,873.6 689.3,873.4 687.8,873.6 686.4,874.2 684.9,875.0 683.5,875.7 682.0,876.1 680.5,876.0 679.0,875.7 677.4,875.2 675.9,875.0 674.4,875.0 672.9,875.4 671.5,876.0 670.0,876.5 668.5,876.7 667.0,876.4 665.5,875.8 663.9,875.1 662.4,874.6 661.0,874.4 659.5,874.7 658.0,875.3 656.4,875.9 654.9,876.3 653.4,876.2 651.9,875.9 650.5,875.3 649.0,874.9 647.5,874.8 646.0,875.1 644.4,875.6 642.9,876.1 641.4,876.4 639.9,876.2 638.4,875.6 637.0,874.8 635.5,874.0 634.1,873.6 632.6,873.6 631.0,873.9 629.5,874.3 628.0,874.6 626.5,874.5 625.0,874.0 623.5,873.4 622.1,872.8 620.6,872.5 619.1,872.6 617.6,873.0 616.0,873.5 614.4,873.8 612.9,873.7 611.5,873.2 610.1,872.4 608.7,871.5 607.3,870.9 605.8,870.6 604.3,870.7 602.7,870.9 601.2,871.1 599.7,870.9 598.2,870.4 596.8,869.6 595.5,868.8 594.1,868.2 592.6,868.0 591.0,868.2 589.4,868.6 587.8,869.0 586.2,869.0 584.8,868.6 583.4,867.8 582.1,866.9 580.7,866.2 579.3,865.7 577.8,865.6 576.2,865.7 574.6,865.8 573.1,865.6 571.7,865.0 570.4,864.1 569.1,863.1 567.8,862.2 566.4,861.7 564.9,861.6 563.3,861.8 561.6,862.1 560.1,862.1 558.6,861.8 557.2,861.1 555.9,860.2 554.6,859.3 553.3,858.7 551.8,858.5 550.2,858.5 548.6,858.5 547.1,858.3 545.7,857.8 544.4,856.8 543.2,855.7 542.0,854.6 540.7,853.8 539.3,853.4 537.7,853.3 536.1,853.4 534.5,853.3 533.0,853.0 531.7,852.3 530.4,851.3 529.2,850.4 527.9,849.6 526.4,849.2 524.9,849.1 523.2,849.1 521.7,849.0 520.2,848.5 519.0,847.7 517.8,846.5 516.7,845.2 515.6,844.2 514.2,843.5 512.7,843.1 511.2,843.0 509.6,842.8 508.1,842.4 506.8,841.6 505.6,840.6 504.5,839.5 503.3,838.6 501.9,838.0 500.4,837.7 498.7,837.7 497.1,837.6 495.6,837.2 494.3,836.4 493.2,835.3 492.2,834.0 491.1,832.8 489.9,831.9 488.5,831.3 487.0,831.0 485.4,830.7 484.0,830.2 482.7,829.4 481.6,828.3 480.6,827.0 479.6,825.9 478.3,825.0 476.9,824.5 475.3,824.3 473.6,824.2 472.1,823.8 470.7,823.1 469.6,822.1 468.6,820.9 467.6,819.6 466.5,818.5 465.2,817.8 463.7,817.3 462.2,816.9 460.8,816.4 459.5,815.5 458.5,814.4 457.6,813.0 456.7,811.6 455.7,810.5 454.4,809.7 452.9,809.3 451.2,809.0 449.7,808.6 448.3,808.0 447.1,807.0 446.2,805.8 445.3,804.5 444.2,803.3 443.0,802.5 441.6,801.9 440.1,801.4 438.6,800.8 437.3,800.0 436.3,798.9 435.5,797.4 434.8,795.9 434.0,794.6 432.9,793.6 431.5,792.9 430.0,792.4 428.5,791.9 427.1,791.2 425.9,790.2 425.0,789.0 424.2,787.6 423.3,786.4 422.2,785.4 420.8,784.7 419.3,784.1 417.8,783.6 416.4,782.8 415.4,781.7 414.6,780.3 414.0,778.8 413.3,777.3 412.4,776.0 411.3,775.1 409.9,774.4 408.4,773.7 407.1,773.0 406.0,771.9 405.1,770.7 404.4,769.3 403.7,767.9 402.7,766.7 401.5,765.8 400.0,765.2 398.5,764.6 397.1,763.9 395.9,762.9 395.1,761.6 394.5,760.1 394.0,758.5 393.3,757.1 392.3,756.0 391.0,755.1 389.7,754.3 388.4,753.5 387.3,752.4 386.5,751.1 386.0,749.6 385.4,748.1 384.7,746.7 383.6,745.7 382.3,744.8 380.8,744.2 379.3,743.4 378.1,742.5 377.2,741.2 376.6,739.8 376.2,738.3 375.6,736.8 374.7,735.6 373.6,734.5 372.3,733.6 371.0,732.7 370.0,731.6 369.3,730.3 368.8,728.8 368.5,727.2 368.0,725.6 367.2,724.4 366.1,723.3 364.7,722.5 363.3,721.7 362.0,720.7 361.1,719.5 360.5,718.1 360.1,716.6 359.6,715.1 358.9,713.8 357.8,712.6 356.6,711.7 355.3,710.7 354.2,709.6 353.5,708.3 353.1,706.8 352.9,705.1 352.6,703.5 352.1,702.1 351.3,700.8 350.1,699.8 348.8,698.8 347.6,697.8 346.7,696.6 346.1,695.2 345.7,693.7 345.4,692.2 344.8,690.8 343.9,689.5 342.7,688.5 341.5,687.5 340.3,686.4 339.5,685.1 339.0,683.7 338.9,682.0 338.8,680.4 338.6,678.8 338.0,677.5 337.0,676.3 335.9,675.2 334.8,674.0 333.9,672.8 333.4,671.4 333.1,669.8 332.9,668.2 332.6,666.8 331.9,665.4 330.8,664.3 329.6,663.2 328.4,662.1 327.4,660.9 326.9,659.5 326.7,657.9 326.7,656.3 326.6,654.7 326.3,653.2 325.5,651.9 324.6,650.7 323.5,649.5 322.7,648.2 322.3,646.7 322.2,645.2 322.2,643.5 322.1,642.0 321.6,640.5 320.8,639.2 319.7,638.1 318.5,636.9 317.5,635.7 316.9,634.3 316.6,632.8 316.6,631.2 316.7,629.6 316.4,628.1 315.9,626.7 315.0,625.4 314.1,624.1 313.3,622.8 312.9,621.4 312.8,619.8 313.0,618.2 313.2,616.6 313.0,615.0 312.5,613.6 311.6,612.3 310.6,611.1 309.6,609.8 308.9,608.4 308.6,607.0 308.7,605.4 308.7,603.8 308.7,602.3 308.2,600.8 307.5,599.5 306.6,598.2 305.8,596.8 305.3,595.4 305.2,593.9 305.5,592.2 305.9,590.6 306.1,589.0 305.9,587.6 305.3,586.2 304.4,584.8 303.5,583.5 302.9,582.1 302.6,580.6 302.7,579.0 302.9,577.5 303.0,575.9 302.7,574.5 302.1,573.0 301.2,571.7 300.4,570.3 299.8,568.9 299.7,567.4 300.0,565.8 300.4,564.2 300.8,562.6 300.9,561.1 300.6,559.6 300.0,558.2 299.3,556.8 298.7,555.3 298.5,553.9 298.7,552.3 299.0,550.8 299.3,549.2 299.3,547.7 298.9,546.3 298.1,544.8 297.3,543.4 296.6,542.0 296.4,540.5 296.5,538.9 297.0,537.4 297.5,535.9 297.8,534.3 297.8,532.8 297.4,531.4 296.8,529.9 296.3,528.4 296.2,526.9 296.4,525.4 296.9,523.9 297.5,522.4 297.7,520.9 297.6,519.4 297.1,517.9 296.3,516.4 295.7,514.9 295.3,513.4 295.4,511.9 295.8,510.4 296.4,508.9 296.8,507.4 296.9,505.9 296.7,504.4 296.2,502.9 295.8,501.4 295.7,499.9 296.0,498.4 296.6,496.9 297.4,495.4 297.9,494.0 298.1,492.5 297.9,491.0 297.4,489.4 296.8,487.9 296.4,486.4 296.5,484.9 296.9,483.4 297.5,481.9 298.0,480.5 298.3,479.0 298.2,477.5 297.8,475.9 297.4,474.4 297.2,472.8 297.5,471.4 298.1,469.9 299.0,468.5 299.8,467.1 300.3,465.7 300.5,464.2 300.2,462.6 299.8,461.1 299.5,459.5 299.6,458.0 300.0,456.5 300.7,455.1 301.4,453.7 301.8,452.3 301.8,450.7 301.6,449.2 301.2,447.6 301.0,446.0 301.1,444.5 301.7,443.1 302.6,441.7 303.6,440.4 304.3,439.0 304.7,437.6 304.7,436.1 304.5,434.5 304.4,432.9 304.5,431.4 305.0,430.0 305.8,428.6 306.7,427.3 307.3,425.9 307.6,424.4 307.5,422.9 307.2,421.2 306.9,419.6 307.0,418.1 307.4,416.6 308.3,415.3 309.3,414.0 310.2,412.7 310.8,411.3 311.1,409.9 311.1,408.3 311.0,406.7 311.2,405.2 311.8,403.8 312.7,402.5 313.7,401.3 314.6,400.0 315.2,398.6 315.4,397.1 315.2,395.5 315.0,393.8 315.0,392.2 315.4,390.8 316.2,389.4 317.2,388.2 318.2,387.0 318.9,385.6 319.3,384.2 319.5,382.6 319.5,381.1 319.8,379.5 320.3,378.2 321.3,376.9 322.4,375.8 323.6,374.6 324.5,373.3 324.9,371.9 325.1,370.4 325.0,368.7 325.1,367.1 325.4,365.6 326.1,364.3 327.1,363.1 328.2,361.9 329.1,360.7 329.6,359.3 329.9,357.7 330.0,356.1 330.2,354.6 330.7,353.2 331.6,351.9 332.9,350.9 334.2,349.8 335.3,348.7 336.1,347.4 336.5,346.0 336.7,344.4 336.9,342.8 337.3,341.3 338.0,340.0 339.0,338.8 340.2,337.7 341.2,336.6 341.9,335.3 342.3,333.8 342.5,332.2 342.7,330.6 343.1,329.1 344.0,327.8 345.1,326.8 346.5,325.8 347.8,324.8 348.8,323.7 349.5,322.4 349.9,320.9 350.2,319.3 350.7,317.9 351.5,316.6 352.6,315.5 353.9,314.5 355.1,313.5 356.0,312.3 356.6,310.9 356.9,309.3 357.1,307.7 357.5,306.1 358.2,304.8 359.3,303.7 360.7,302.8 362.0,301.9 363.2,300.9 364.1,299.7 364.7,298.3 365.1,296.8 365.7,295.4 366.6,294.1 367.7,293.1 369.1,292.2 370.4,291.4 371.6,290.4 372.4,289.1 373.0,287.7 373.3,286.0 373.7,284.5 374.4,283.1 375.4,281.9 376.7,281.0 378.1,280.2 379.3,279.3 380.3,278.2 381.1,276.9 381.6,275.4 382.3,274.0 383.1,272.7 384.3,271.7 385.7,271.0 387.2,270.3 388.6,269.5 389.7,268.5 390.5,267.2 391.0,265.7 391.5,264.1 392.2,262.7 393.2,261.6 394.4,260.7 395.8,259.9 397.2,259.1 398.3,258.1 399.1,256.8 399.8,255.4 400.4,253.9 401.3,252.6 402.4,251.6 403.8,250.9 405.4,250.4 406.9,249.8 408.2,249.0 409.2,247.9 410.0,246.5 410.7,245.1 411.5,243.7 412.5,242.6 413.7,241.7 415.1,241.0 416.5,240.4 417.8,239.5 418.8,238.3 419.5,236.9 420.2,235.5 421.0,234.1 422.1,233.0 423.4,232.3 424.9,231.8 426.5,231.3 428.0,230.7 429.2,229.8 430.2,228.7 431.0,227.3 431.9,226.0 433.0,224.9 434.2,224.2 435.7,223.6 437.2,223.1 438.6,222.4 439.7,221.4 440.6,220.2 441.4,218.7 442.2,217.3 443.2,216.1 444.5,215.3 446.0,214.8 447.6,214.4 449.1,213.9 450.4,213.2 451.5,212.2 452.5,211.0 453.5,209.8 454.6,208.7 455.9,208.0 457.4,207.5 459.0,207.2 460.5,206.8 461.9,206.1 462.9,205.0 463.8,203.7 464.7,202.3 465.7,201.0 466.9,200.1 468.4,199.6 469.9,199.2 471.4,198.9 472.9,198.3 474.1,197.4 475.1,196.3 476.2,195.1 477.3,194.0 478.6,193.3 480.2,193.0 481.8,192.8 483.4,192.6 484.9,192.2 486.2,191.4 487.2,190.3 488.2,189.0 489.3,187.7 490.5,186.8 491.9,186.2 493.4,185.9 495.0,185.7 496.4,185.2 497.7,184.5 498.9,183.4 500.0,182.2 501.1,181.1 502.4,180.4 503.9,180.0 505.5,179.9 507.2,179.9 508.8,179.8 510.2,179.3 511.4,178.4 512.6,177.3 513.7,176.2 515.0,175.3 516.4,174.7 517.9,174.5 519.5,174.4 521.0,174.1 522.4,173.5 523.6,172.6 524.7,171.4 525.9,170.3 527.2,169.4 528.6,168.9 530.2,168.9 531.8,169.0 533.5,169.0 535.0,168.8 536.3,168.1 537.6,167.2 538.8,166.2 540.1,165.4 541.6,164.9 543.1,164.8 544.7,164.8 546.3,164.8 547.7,164.4 549.1,163.7 550.3,162.7 551.5,161.5 552.8,160.6 554.2,160.0 555.7,159.8 557.3,159.9 558.9,160.1 560.5,160.0 561.9,159.6 563.2,158.9 564.6,158.0 565.9,157.3 567.4,156.8 568.9,156.8 570.5,157.0 572.1,157.2 573.6,157.1 575.1,156.7 576.4,155.9 577.7,154.8 579.0,153.9 580.4,153.2 581.9,153.0 583.4,153.1 585.0,153.3 586.6,153.3 588.0,153.1 589.5,152.5 590.8,151.7 592.2,151.0 593.7,150.5 595.2,150.5 596.8,150.8 598.4,151.3 599.9,151.5 601.4,151.4 602.9,150.9 604.2,150.0 605.6,149.2 607.0,148.5 608.5,148.2 610.1,148.3 611.6,148.6 613.2,148.8 614.6,148.7 616.1,148.2 617.5,147.5 618.9,146.8 620.4,146.3 621.9,146.2 623.5,146.5 625.0,147.1 626.6,147.6 628.1,147.8 629.6,147.6 631.0,147.0 632.5,146.3 633.9,145.7 635.4,145.5 636.9,145.6 638.5,146.0 640.0,146.4 641.5,146.5 643.0,146.2 644.5,145.5 645.9,144.8 647.4,144.2 648.9,144.0 650.4,144.3 651.9,144.9 653.5,145.5 655.0,146.0 656.5,146.0 658.0,145.7 659.5,145.2 660.9,144.7 662.5,144.6 664.0,144.8 665.4,145.3 666.9,145.9 668.4,146.2 669.9,146.2 671.4,145.7 673.0,145.1 674.5,144.5 676.0,144.2 677.5,144.3 679.0,144.8 680.4,145.5 681.9,146.1 683.4,146.4 684.9,146.3 686.4,145.9 688.0,145.6 689.5,145.5 691.0,145.8 692.4,146.4 693.9,147.1 695.3,147.8 696.8,148.0 698.3,147.9 699.9,147.4 701.4,146.9 703.0,146.5 704.5,146.6 705.9,147.1 707.4,147.7 708.8,148.4 710.2,148.8 711.7,148.9 713.3,148.7 714.9,148.4 716.4,148.3 717.9,148.6 719.3,149.2 720.7,150.2 722.0,151.0 723.4,151.6 724.9,151.8 726.5,151.6 728.1,151.2 729.7,151.0 731.2,151.0 732.6,151.4 734.0,152.2 735.4,152.9 736.8,153.5 738.3,153.7 739.8,153.6 741.4,153.3 743.0,153.2 744.5,153.4 745.9,154.0 747.2,155.0 748.5,156.1 749.8,156.9 751.3,157.4 752.8,157.5 754.4,157.4 755.9,157.2 757.5,157.3 758.9,157.8 760.2,158.6 761.5,159.5 762.9,160.2 764.3,160.6 765.9,160.6 767.5,160.4 769.1,160.3 770.7,160.4 772.1,160.9 773.4,161.8 774.6,163.0 775.8,164.0 777.2,164.7 778.6,165.1 780.2,165.2 781.7,165.2 783.3,165.4 784.7,165.9 786.0,166.8 787.2,167.8 788.4,168.8 789.8,169.4 791.3,169.7 792.9,169.7 794.6,169.5 796.2,169.6 797.6,170.0 798.9,170.8 800.1,171.9 801.2,173.0 802.5,173.9 803.9,174.5 805.4,174.8 807.0,174.9 808.5,175.2 809.9,175.8 811.1,176.7 812.2,177.9 813.3,179.1 814.5,180.0 815.9,180.5 817.5,180.7 819.2,180.7 820.8,180.8 822.3,181.2 823.6,181.9 824.7,183.0 825.8,184.1 827.0,185.1 828.3,185.8 829.8,186.2 831.4,186.5 832.9,186.8 834.3,187.4 835.5,188.3 836.5,189.5 837.5,190.9 838.6,192.1 839.8,192.9 841.3,193.4 842.9,193.6 844.5,193.8 846.0,194.2 847.3,195.0 848.4,196.0 849.5,197.2 850.6,198.3 851.8,199.1 853.2,199.7 854.8,200.0 856.4,200.3 857.8,200.8 859.0,201.7 860.0,202.9 860.9,204.3 861.8,205.7 862.9,206.8 864.2,207.6 865.6,208.0 867.2,208.4 868.7,208.9 870.0,209.7 871.1,210.7 872.0,212.0 873.0,213.2 874.1,214.2 875.5,214.9 877.0,215.3 878.6,215.7 880.1,216.2 881.4,216.9 882.4,218.1 883.3,219.5 884.0,220.9 885.0,222.2 886.1,223.2 887.4,223.9 888.9,224.4 890.4,225.0 891.6,225.9 892.6,227.0 893.5,228.3 894.3,229.7 895.2,230.9 896.4,231.8 897.9,232.4 899.5,232.9 901.1,233.3 902.4,234.1 903.5,235.1 904.3,236.4 905.1,237.9 905.8,239.3 906.8,240.4 908.1,241.2 909.5,241.9 910.9,242.6 912.1,243.5 913.1,244.6 913.8,246.1 914.5,247.6 915.2,249.0 916.2,250.1 917.5,250.9 919.0,251.5 920.5,252.1 921.9,252.8 923.1,253.8 923.9,255.1 924.6,256.5 925.3,257.9 926.2,259.2 927.3,260.1 928.7,260.9 930.1,261.7 931.4,262.5 932.3,263.7 933.0,265.1 933.5,266.7 934.0,268.2 934.7,269.6 935.8,270.7 937.1,271.5 938.6,272.2 940.0,273.0 941.1,274.0 942.0,275.2 942.6,276.7 943.2,278.1 943.9,279.4 945.0,280.5 946.3,281.4 947.7,282.2 949.0,283.1 950.0,284.2 950.7,285.5 951.2,287.1 951.5,288.7 952.0,290.2 952.8,291.5 953.9,292.5 955.2,293.4 956.5,294.3 957.6,295.4 958.5,296.7 959.0,298.1 959.5,299.6 960.1,301.0 960.9,302.2 962.1,303.2 963.5,304.1 964.9,305.0 966.0,306.0 966.8,307.3 967.2,308.9 967.5,310.5 967.8,312.1 968.4,313.5 969.3,314.7 970.5,315.7 971.7,316.7 972.7,317.8 973.5,319.1 973.9,320.6 974.2,322.2 974.6,323.7 975.2,325.1 976.2,326.2 977.5,327.2 978.9,328.1 980.1,329.2 981.0,330.4 981.5,331.9 981.7,333.5 981.9,335.0 982.3,336.5 983.1,337.8 984.1,339.0 985.2,340.1 986.2,341.2 986.9,342.6 987.3,344.1 987.4,345.7 987.5,347.3 987.9,348.8 988.6,350.1 989.7,351.2 991.0,352.3 992.2,353.4 993.2,354.6 993.7,356.0 994.0,357.5 994.1,359.1 994.4,360.6 995.0,362.0 995.9,363.2 997.0,364.4 998.0,365.6 998.7,366.9 999.1,368.4 999.1,370.0 999.0,371.7 999.1,373.3 999.5,374.7 1000.3,376.0 1001.4,377.2 1002.5,378.4 1003.5,379.6 1004.0,381.0 1004.2,382.5 1004.3,384.1 1004.5,385.6 1004.9,387.1 1005.7,388.4 1006.8,389.6 1007.8,390.8 1008.6,392.1 1009.0,393.6 1009.0,395.2 1008.8,396.8 1008.7,398.5 1008.8,400.0 1009.3,401.4 1010.2,402.7 1011.1,404.0 1012.0,405.3 1012.5,406.7 1012.6,408.2 1012.6,409.8 1012.6,411.3 1012.8,412.8 1013.4,414.2 1014.4,415.5 1015.4,416.8 1016.3,418.1 1016.8,419.5 1016.9,421.1 1016.7,422.7 1016.4,424.3 1016.3,425.8 1016.6,427.3 1017.2,428.7 1018.0,430.1 1018.8,431.4 1019.2,432.9 1019.3,434.4 1019.1,436.0 1018.9,437.5 1018.8,439.1 1019.2,440.5 1020.0,441.9 1020.9,443.2 1021.9,444.6 1022.5,446.0 1022.7,447.5 1022.5,449.1 1022.1,450.7 1021.9,452.2 1022.0,453.7 1022.4,455.2 1023.1,456.6 1023.8,458.0 1024.2,459.5 1024.2,461.0 1023.9,462.5 1023.4,464.1 1023.1,465.6 1023.1,467.2 1023.6,468.6 1024.4,470.0 1025.3,471.4 1025.9,472.9 1026.2,474.4 1026.0,475.9 1025.7,477.4 1025.3,479.0 1025.3,480.5 1025.6,482.0 1026.1,483.4 1026.8,484.9 1027.2,486.3 1027.2,487.9 1026.9,489.4 1026.3,490.9 1025.7,492.4 1025.4,494.0 1025.5,495.5 1026.0,496.9 1026.7,498.4 1027.3,499.9 1027.6,501.4 1027.4,502.9 1027.0,504.4 1026.6,505.9 1026.4,507.4 1026.5,508.9" fill="none" stroke="#000" stroke-width="6.2" stroke-linejoin="bevel" shape-rendering="crispEdges"/>
<path d="M645.5,327.9A183.2,183.2 0 0 1 665.8,327.2 M683.5,328.5A183.2,183.2 0 0 1 702.2,331.7 M718.6,336.2A183.2,183.2 0 0 1 735.4,342.7 M749.4,349.6A183.2,183.2 0 0 1 765.2,359.2 M779.6,370.2A183.2,183.2 0 0 1 793.8,383.5 M805.1,396.4A183.2,183.2 0 0 1 817.5,414.1 M828.5,434.7A183.2,183.2 0 0 1 836.5,455.7 M841.6,475.7A183.2,183.2 0 0 1 844.2,494.2 M844.9,506.9A183.2,183.2 0 0 1 844.4,523.5 M842.5,540.1A183.2,183.2 0 0 1 839.1,556.2 M835.1,569.5A183.2,183.2 0 0 1 829.3,584.3 M822.7,597.9A183.2,183.2 0 0 1 814.2,612.0 M805.2,624.3A183.2,183.2 0 0 1 794.0,637.1 M782.8,647.9A183.2,183.2 0 0 1 768.4,659.3 M753.7,668.8A183.2,183.2 0 0 1 734.6,678.5 M712.9,686.3A183.2,183.2 0 0 1 691.5,691.2 M672.9,693.3A183.2,183.2 0 0 1 653.0,693.4 M635.7,691.7A183.2,183.2 0 0 1 617.3,688.1 M601.0,683.2A183.2,183.2 0 0 1 584.2,676.4 M570.5,669.3A183.2,183.2 0 0 1 554.2,658.7 M538.5,646.0A183.2,183.2 0 0 1 523.6,630.8 M511.5,615.3A183.2,183.2 0 0 1 500.0,596.6 M490.8,576.5A183.2,183.2 0 0 1 484.6,557.4 M481.3,542.1A183.2,183.2 0 0 1 479.1,525.2 M478.5,509.9A183.2,183.2 0 0 1 479.2,494.3 M480.8,481.2A183.2,183.2 0 0 1 484.0,465.9 M488.4,451.1A183.2,183.2 0 0 1 494.2,436.2 M500.6,423.2A183.2,183.2 0 0 1 508.7,409.6 M517.2,397.8A183.2,183.2 0 0 1 527.9,385.3 M539.3,374.1A183.2,183.2 0 0 1 552.8,363.1 M565.7,354.3A183.2,183.2 0 0 1 583.7,344.7 M604.6,336.3A183.2,183.2 0 0 1 625.9,330.7" fill="none" stroke="#000" stroke-width="6.2" shape-rendering="crispEdges"/>
<path d="M615.1,431.4h0.01 M631.3,423.9h0.01 M651.4,419.3h0.01 M669.2,419.0h0.01 M682.9,421.2h0.01 M698.6,426.5h0.01 M713.6,434.8h0.01 M727.1,446.1h0.01 M738.8,460.7h0.01 M748.7,481.4h0.01 M751.2,490.3h0.01 M753.2,505.1h0.01 M753.0,519.4h0.01 M750.4,533.6h0.01 M746.1,546.2h0.01 M739.7,558.7h0.01 M733.6,567.3h0.01 M724.9,576.9h0.01 M711.6,587.4h0.01 M698.0,594.6h0.01 M676.4,600.9h0.01 M660.9,602.1h0.01 M641.5,599.9h0.01 M628.1,595.7h0.01 M615.6,589.7h0.01 M603.0,580.8h0.01 M589.6,567.0h0.01 M579.1,550.3h0.01 M572.6,532.0h0.01 M570.1,515.1h0.01 M570.3,503.2h0.01 M572.3,490.1h0.01 M576.4,476.6h0.01 M583.0,463.3h0.01 M592.4,450.4h0.01 M602.4,440.4h0.01" fill="none" stroke="#000" stroke-width="6.2" stroke-linecap="round" shape-rendering="crispEdges"/>
<circle cx="661.7" cy="510.3" r="9.3" fill="#000"/>
<rect x="288.00" y="1030" width="110.21" height="46" fill="#a23b6c" shape-rendering="crispEdges"/>
<rect x="397.71" y="1030" width="110.21" height="46" fill="#c9879f" shape-rendering="crispEdges"/>
<rect x="507.43" y="1030" width="110.21" height="46" fill="#e2bfcb" shape-rendering="crispEdges"/>
<rect x="617.14" y="1030" width="110.21" height="46" fill="#f7f7f7" shape-rendering="crispEdges"/>
<rect x="726.86" y="1030" width="110.21" height="46" fill="#c2d1bc" shape-rendering="crispEdges"/>
<rect x="836.57" y="1030" width="110.21" height="46" fill="#91ab84" shape-rendering="crispEdges"/>
<rect x="946.29" y="1030" width="110.21" height="46" fill="#4d7a3e" shape-rendering="crispEdges"/>
<text x="288.0" y="1110.5" font-size="23" text-anchor="middle">-30%</text>
<text x="397.7" y="1110.5" font-size="23" text-anchor="middle">-20%</text>
<text x="507.4" y="1110.5" font-size="23" text-anchor="middle">-10%</text>
<text x="617.1" y="1110.5" font-size="23" text-anchor="middle">-5%</text>
<text x="726.9" y="1110.5" font-size="23" text-anchor="middle">+5%</text>
<text x="836.6" y="1110.5" font-size="23" text-anchor="middle">+10%</text>
<text x="946.3" y="1110.5" font-size="23" text-anchor="middle">+20%</text>
<text x="1056.0" y="1110.5" font-size="23" text-anchor="middle">+30%</text>
<text x="284" y="40" font-size="33.8">Population growth in Holyrood station area</text>
<text x="285" y="84" font-size="28.5">2001-2021</text>
<text x="1057" y="1147" font-size="23" text-anchor="end">Data StatCan census 2001-2021</text>
</svg></body></html>
